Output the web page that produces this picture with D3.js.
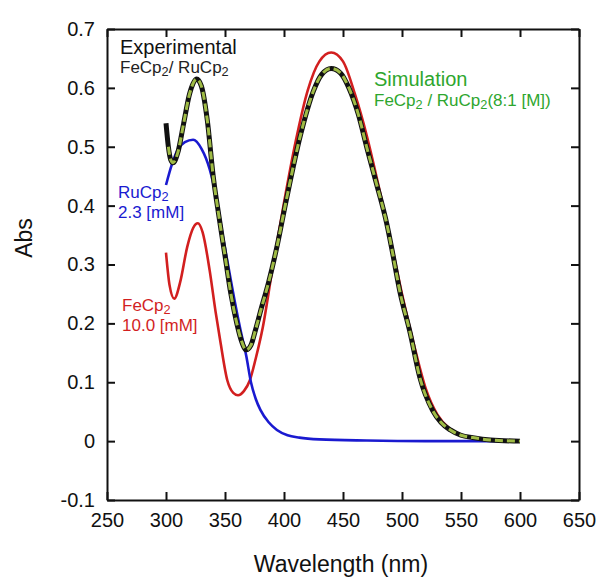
<!doctype html>
<html lang="en">
<head>
  <meta charset="UTF-8">
  <title>Abs spectra</title>
  <script src="https://cdn.jsdelivr.net/npm/d3@7"></script>
  <style>
    body { margin: 0; background: #fff; }
    text { font-family: "Liberation Sans", Arial, sans-serif; }
  </style>
</head>
<body>
<div id="container"></div>
<script type="text/javascript">
// values
var xTicks = [250, 300, 350, 400, 450, 500, 550, 600, 650];
var yTicks = [-0.1, 0, 0.1, 0.2, 0.3, 0.4, 0.5, 0.6, 0.7];

var ruWave = [300, 305, 310, 316, 323, 330, 337, 343, 348, 353, 358, 363, 368, 372, 376, 380, 387, 394, 403, 413, 430, 470, 520, 560, 600];
var ruAbs  = [0.435, 0.47, 0.495, 0.508, 0.512, 0.497, 0.462, 0.41, 0.35, 0.295, 0.24, 0.19, 0.145, 0.1, 0.072, 0.053, 0.032, 0.019, 0.01, 0.006, 0.003, 0.001, 0.0, 0.0, 0.0];

var feWave = [300, 303, 307, 312, 318, 323, 327, 331, 337, 342, 346, 352, 357, 361, 366, 371, 376, 382, 390, 400, 410, 420, 430, 440, 450, 460, 470, 480, 490, 500, 510, 520, 530, 540, 550, 560, 580, 600];
var feAbs  = [0.32, 0.265, 0.242, 0.27, 0.33, 0.362, 0.37, 0.355, 0.29, 0.22, 0.17, 0.103, 0.082, 0.078, 0.085, 0.103, 0.14, 0.193, 0.29, 0.405, 0.51, 0.595, 0.645, 0.66, 0.645, 0.59, 0.52, 0.435, 0.345, 0.25, 0.165, 0.09, 0.045, 0.022, 0.011, 0.005, 0.001, 0.0];

var expWave = [300, 302, 304, 306, 310, 315, 320, 326, 330, 335, 340, 345, 350, 355, 360, 364, 368, 372, 376, 380, 387, 394, 402, 414, 425, 432, 440, 448, 455, 463, 470, 478, 487, 492, 498, 507, 515, 526, 533, 541, 550, 560, 575, 600];
var expAbs  = [0.54, 0.5, 0.478, 0.473, 0.49, 0.54, 0.59, 0.615, 0.603, 0.545, 0.45, 0.38, 0.315, 0.25, 0.2, 0.17, 0.155, 0.163, 0.19, 0.22, 0.27, 0.33, 0.41, 0.52, 0.595, 0.623, 0.633, 0.625, 0.6, 0.555, 0.5, 0.44, 0.37, 0.32, 0.256, 0.183, 0.109, 0.052, 0.032, 0.019, 0.01, 0.006, 0.002, 0.0];

var W = 603, H = 580;
var margin = {left: 107, top: 29, right: 24, bottom: 80};
var w = W - margin.left - margin.right;
var h = H - margin.top - margin.bottom;

var svg = d3.select('#container').append('svg')
  .attr('width', W)
  .attr('height', H);

var g = svg.append('g').attr('transform', 'translate(' + margin.left + ',' + margin.top + ')');

var x = d3.scaleLinear().domain([250, 650]).range([0, w]);
var y = d3.scaleLinear().domain([-0.1, 0.7]).range([h, 0]);

// plain hyphen for negatives, like the original
function fmtY(d) {
  if (Math.abs(d) < 1e-9) return '0';
  return d.toFixed(1);
}

function styleAxis(sel) {
  sel.selectAll('path').attr('stroke', '#111').attr('stroke-width', 2);
  sel.selectAll('line').attr('stroke', '#111').attr('stroke-width', 2);
  sel.selectAll('text').attr('font-size', 20).attr('fill', '#111').attr('font-family', '"Liberation Sans", Arial, sans-serif');
}

g.append('g')
  .attr('transform', 'translate(0,' + h + ')')
  .call(d3.axisBottom(x).tickValues(xTicks).tickSizeInner(-8).tickSizeOuter(0).tickPadding(13))
  .call(styleAxis);

g.append('g')
  .call(d3.axisTop(x).tickValues(xTicks).tickSizeInner(-8).tickSizeOuter(0).tickFormat(''))
  .call(styleAxis);

g.append('g')
  .call(d3.axisLeft(y).tickValues(yTicks).tickSizeInner(-8).tickSizeOuter(0).tickPadding(12).tickFormat(fmtY))
  .call(styleAxis);

g.append('g')
  .attr('transform', 'translate(' + w + ',0)')
  .call(d3.axisRight(y).tickValues(yTicks).tickSizeInner(-8).tickSizeOuter(0).tickFormat(''))
  .call(styleAxis);

function pts(wave, abs) {
  return wave.map(function(d, i) { return [d, abs[i]]; });
}

var line = d3.line()
  .x(function(d) { return x(d[0]); })
  .y(function(d) { return y(d[1]); })
  .curve(d3.curveMonotoneX);

g.append('path').datum(pts(feWave, feAbs))
  .attr('d', line).attr('fill', 'none')
  .attr('stroke', '#d21f1f').attr('stroke-width', 2.6);

g.append('path').datum(pts(ruWave, ruAbs))
  .attr('d', line).attr('fill', 'none')
  .attr('stroke', '#1a1ad0').attr('stroke-width', 2.6);

// experimental (black) with simulation (green dashed) on top
g.append('path').datum(pts(expWave, expAbs))
  .attr('d', line).attr('fill', 'none')
  .attr('stroke', '#111').attr('stroke-width', 5);

g.append('path').datum(pts(expWave, expAbs).slice(1))
  .attr('d', line).attr('fill', 'none')
  .attr('stroke', '#9fbb45').attr('stroke-width', 3)
  .attr('stroke-dasharray', '8,4');

// labels, subscript 2 drawn as a smaller shifted tspan
function label(xp, yp, parts, size, color) {
  var t = svg.append('text')
    .attr('x', xp).attr('y', yp)
    .attr('font-size', size)
    .attr('fill', color);
  parts.forEach(function(p) {
    if (p[1]) {
      t.append('tspan').attr('font-size', size * 0.75).attr('dy', 3).text(p[0]);
    } else {
      t.append('tspan').attr('dy', p[2] || 0).text(p[0]);
    }
  });
  return t;
}

label(120, 54, [['Experimental']], 20, '#111');
label(120, 73, [['FeCp'], ['2', true], ['/ RuCp', false, -3], ['2', true]], 17, '#222');

label(374, 86, [['Simulation']], 20, '#2ea62e');
label(374, 106, [['FeCp'], ['2', true], [' / RuCp', false, -3], ['2', true], ['(8:1 [M])', false, -3]], 17, '#2ea62e');

label(118, 198, [['RuCp'], ['2', true]], 17, '#1a1ad0');
label(118, 218, [['2.3 [mM]']], 17, '#1a1ad0');

label(122, 311, [['FeCp'], ['2', true]], 17, '#d21f1f');
label(122, 331, [['10.0 [mM]']], 17, '#d21f1f');

// axis titles
svg.append('text')
  .attr('x', 341).attr('y', 572)
  .attr('text-anchor', 'middle')
  .attr('font-size', 23)
  .attr('fill', '#111')
  .text('Wavelength (nm)');

svg.append('text')
  .attr('transform', 'translate(32,238) rotate(-90)')
  .attr('text-anchor', 'middle')
  .attr('font-size', 23)
  .attr('fill', '#111')
  .text('Abs');
</script>
</body>
</html>
